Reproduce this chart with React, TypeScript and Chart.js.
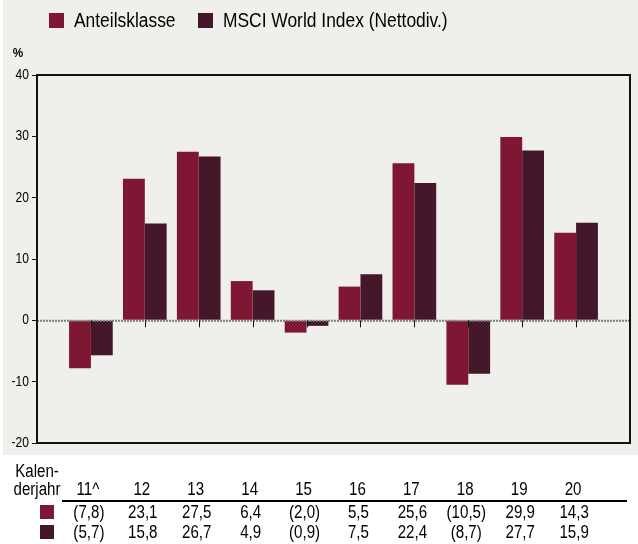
import React, { useEffect, useRef } from "react";
import { Chart, registerables } from "chart.js";

Chart.register(...registerables);

const categories = ["11^", "12", "13", "14", "15", "16", "17", "18", "19", "20"];
const seriesNames = ["Anteilsklasse", "MSCI World Index (Nettodiv.)"];
const anteilsklasse = [-7.8, 23.1, 27.5, 6.4, -2.0, 5.5, 25.6, -10.5, 29.9, 14.3];
const msciWorld = [-5.7, 15.8, 26.7, 4.9, -0.9, 7.5, 22.4, -8.7, 27.7, 15.9];
const yMin = -20;
const yMax = 40;
const yStep = 10;
const unitLabel = "%";
const tableHeader = ["Kalen-", "derjahr"];
const seriesColors = ["#7f1734", "#45172b"];

const FONT = "'Liberation Sans', Arial, sans-serif";

function fmt(v: number): string {
  const s = Math.abs(v).toFixed(1).replace(".", ",");
  return v < 0 ? `(${s})` : s;
}

// draws horizontally condensed text (narrow look)
function drawText(ctx: any, text: string, x: number, y: number, sx: number) {
  ctx.save();
  ctx.translate(x, y);
  ctx.scale(sx, 1);
  ctx.fillText(text, 0, 0);
  ctx.restore();
}

const decorPlugin = {
  id: "decor",
  beforeDraw(chart: any) {
    const ctx = chart.ctx;
    ctx.save();
    ctx.fillStyle = "#ffffff";
    ctx.fillRect(0, 0, chart.width, chart.height);
    ctx.fillStyle = "#efefeb";
    ctx.fillRect(3, 0, chart.width - 3, 455);
    ctx.restore();
  },
  afterDatasetsDraw(chart: any) {
    const ctx = chart.ctx;
    const area = chart.chartArea;
    const y = chart.scales.y;
    const x = chart.scales.x;
    const y0 = y.getPixelForValue(0);
    ctx.save();
    ctx.strokeStyle = "#7c7c7c";
    ctx.lineWidth = 2;
    ctx.setLineDash([2, 1]);
    ctx.beginPath();
    ctx.moveTo(area.left, y0 + 0.5);
    ctx.lineTo(area.right, y0 + 0.5);
    ctx.stroke();
    ctx.setLineDash([]);
    ctx.strokeStyle = "#111";
    ctx.lineWidth = 1;
    categories.forEach((_, i) => {
      const px = Math.round(x.getPixelForValue(i + 1)) + 0.5;
      ctx.beginPath();
      ctx.moveTo(px, y0);
      ctx.lineTo(px, y0 + 7);
      ctx.stroke();
    });
    ctx.strokeStyle = "#111";
    ctx.lineWidth = 2;
    ctx.strokeRect(area.left, area.top, area.right - area.left, area.bottom - area.top);
    ctx.restore();
  },
  afterDraw(chart: any) {
    const ctx = chart.ctx;
    const x = chart.scales.x;
    const y = chart.scales.y;
    ctx.save();
    ctx.fillStyle = "#000";
    // y tick labels
    ctx.font = `14px ${FONT}`;
    ctx.textAlign = "right";
    ctx.textBaseline = "middle";
    y.ticks.forEach((t: any) => {
      drawText(ctx, String(t.value), 29, y.getPixelForValue(t.value), 0.86);
    });
    // legend
    ctx.textAlign = "left";
    ctx.font = `20px ${FONT}`;
    const legendX = [49, 198];
    seriesNames.forEach((name, i) => {
      ctx.fillStyle = seriesColors[i];
      ctx.fillRect(legendX[i], 13, 15, 15);
      ctx.fillStyle = "#000";
      drawText(ctx, name, legendX[i] + 25, 21, 0.87);
    });
    // unit label
    ctx.font = `bold 13px ${FONT}`;
    ctx.textAlign = "center";
    drawText(ctx, unitLabel, 18, 53, 0.9);
    // table
    ctx.font = `18px ${FONT}`;
    ctx.textBaseline = "alphabetic";
    drawText(ctx, tableHeader[0], 37, 477, 0.84);
    drawText(ctx, tableHeader[1], 37, 495, 0.84);
    const rows = [anteilsklasse, msciWorld];
    categories.forEach((c, i) => {
      const px = x.getPixelForValue(i + 1);
      drawText(ctx, c, px - 3, 495, 0.84);
      rows.forEach((r, j) => {
        drawText(ctx, fmt(r[i]), px - 2, 518 + j * 20, 0.84);
      });
    });
    ctx.strokeStyle = "#000";
    ctx.lineWidth = 2;
    ctx.beginPath();
    ctx.moveTo(62, 501);
    ctx.lineTo(627, 501);
    ctx.stroke();
    rows.forEach((_, j) => {
      ctx.fillStyle = seriesColors[j];
      ctx.fillRect(40, 505 + j * 20, 14, 14);
    });
    ctx.restore();
  },
};

export default function App() {
  const ref = useRef<HTMLCanvasElement | null>(null);
  useEffect(() => {
    document.body.style.margin = "0";
    if (!ref.current) return;
    const labels = ["", ...categories, ""];
    const chart = new Chart(ref.current, {
      type: "bar",
      data: {
        labels,
        datasets: [
          {
            label: seriesNames[0],
            data: [null, ...anteilsklasse, null],
            backgroundColor: seriesColors[0],
            borderWidth: 0,
          },
          {
            label: seriesNames[1],
            data: [null, ...msciWorld, null],
            backgroundColor: seriesColors[1],
            borderWidth: 0,
          },
        ],
      },
      options: {
        responsive: false,
        animation: false,
        devicePixelRatio: 1,
        layout: { padding: { left: 0, right: 8, top: 75, bottom: 101 } },
        datasets: { bar: { barPercentage: 1, categoryPercentage: 0.81 } },
        plugins: { legend: { display: false }, tooltip: { enabled: false } },
        scales: {
          x: {
            type: "category",
            display: false,
            offset: false,
            grid: { display: false },
          },
          y: {
            min: yMin,
            max: yMax,
            afterFit: (s: any) => {
              s.width = 37;
            },
            ticks: {
              stepSize: yStep,
              display: false,
            },
            grid: {
              drawOnChartArea: false,
              drawTicks: true,
              tickLength: 5,
              color: "#111",
              lineWidth: 1,
            },
            border: { display: false },
          },
        },
      },
      plugins: [decorPlugin],
    });
    return () => chart.destroy();
  }, []);
  return <canvas ref={ref} width={638} height={544} style={{ display: "block" }} />;
}
